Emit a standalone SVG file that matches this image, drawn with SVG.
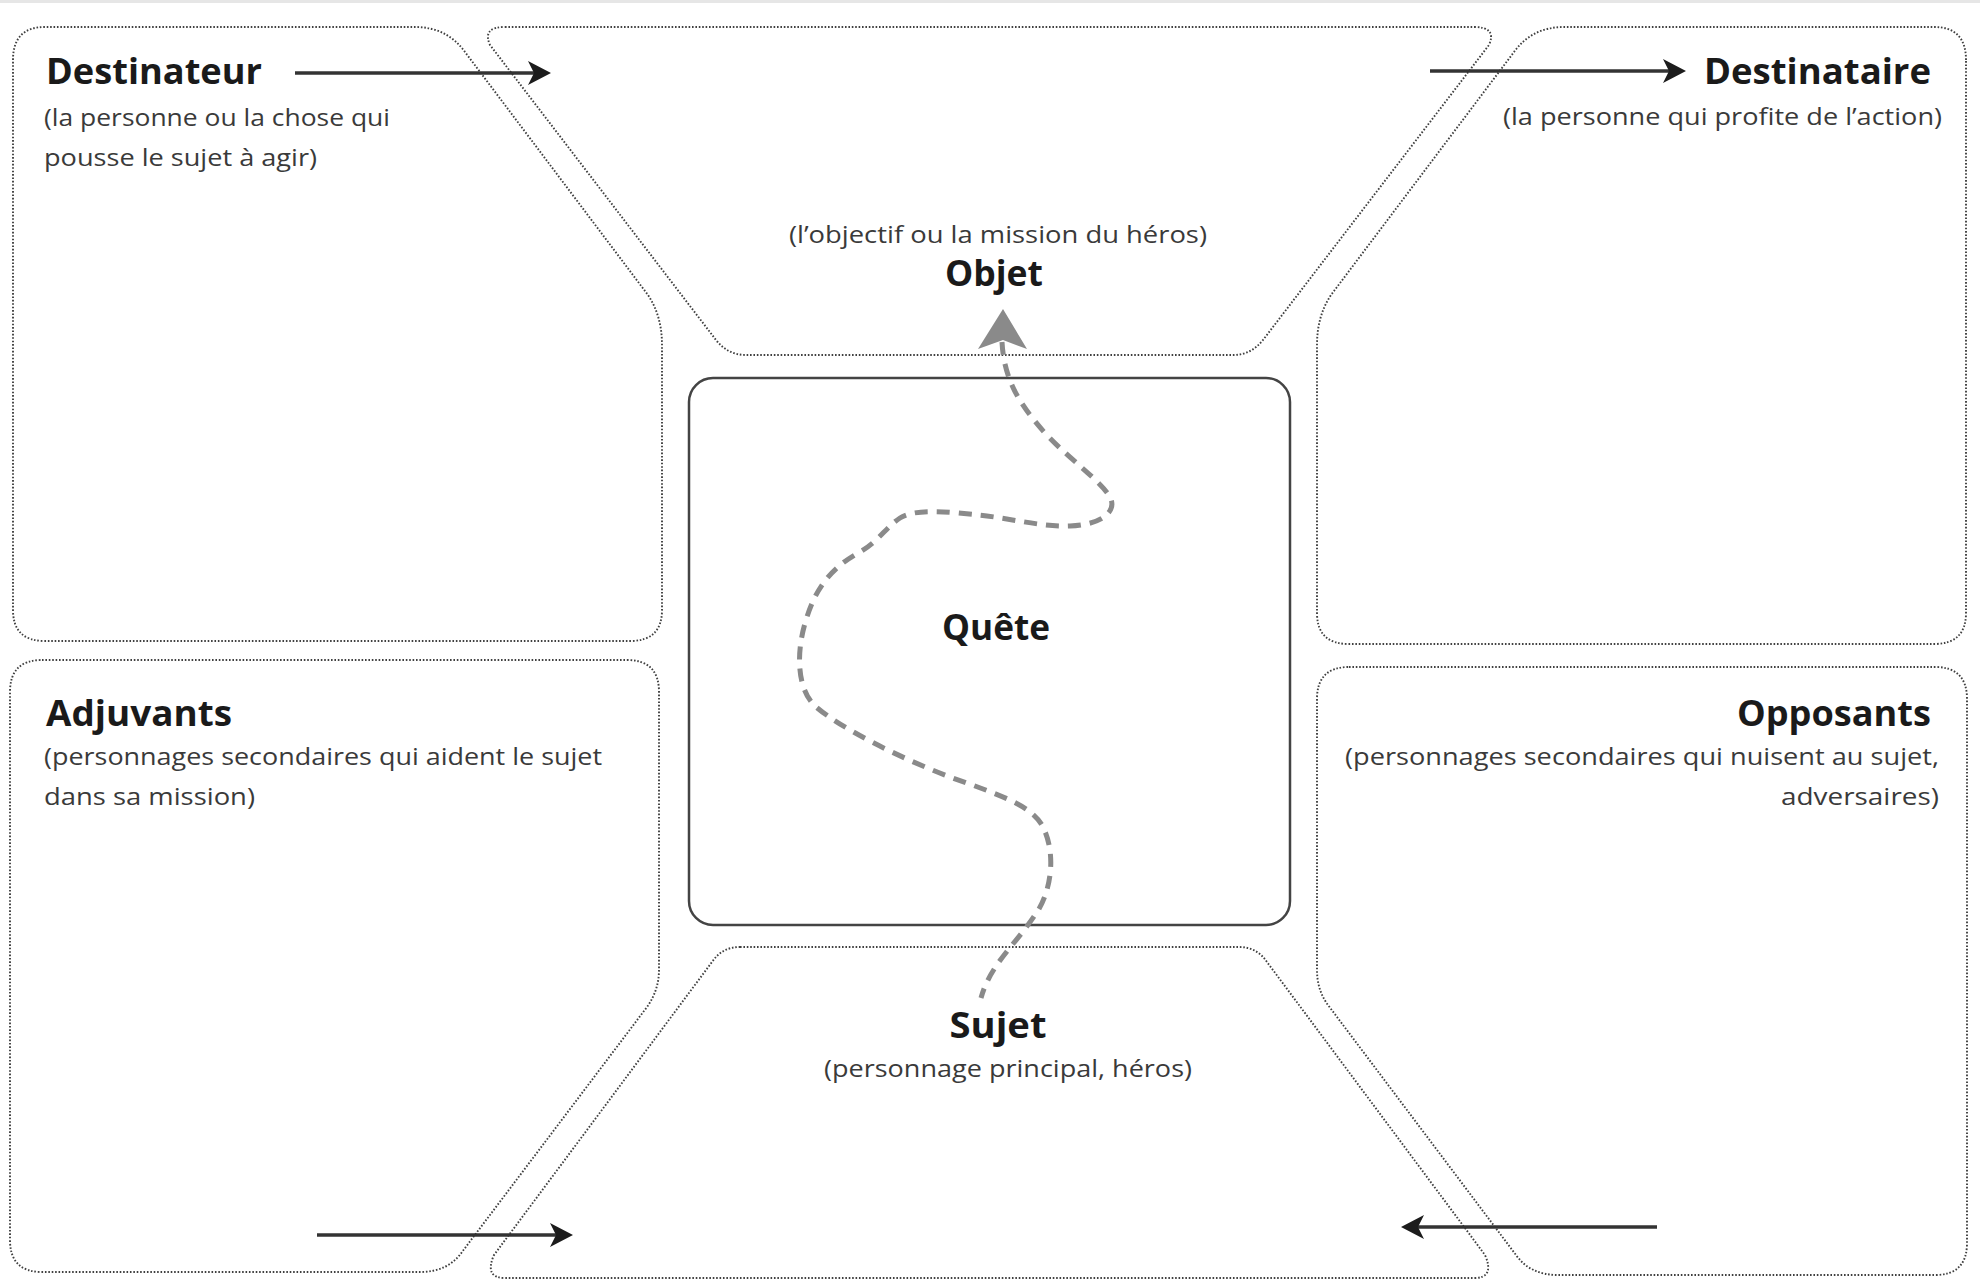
<svg xmlns="http://www.w3.org/2000/svg" width="1980" height="1280" viewBox="0 0 1980 1280">
  <style>
    .zone { fill: none; stroke: #404040; stroke-width: 1.9; stroke-dasharray: 1.6 1.8; }
    .title { font-family: "Open Sans", "Noto Sans", sans-serif; font-weight: 700; font-size: 35px; fill: #1a1a1a; }
    .sub { font-family: "Open Sans", "Noto Sans", sans-serif; font-weight: 400; font-size: 23px; fill: #3a3a3a; }
    .link { fill: none; stroke: #333; stroke-width: 3.5; }
    .quest { fill: none; stroke: #8a8a8a; stroke-width: 5; stroke-dasharray: 13 9; }
  </style>
  <defs>
    <marker id="ah" markerWidth="26" markerHeight="26" refX="14" refY="12" orient="auto" markerUnits="userSpaceOnUse">
      <path d="M0,0 L23,12 L0,24 L6,12 Z" fill="#1c1c1c"/>
    </marker>
  </defs>
  <rect x="0" y="0" width="1980" height="3" fill="#e6e6e6"/>

  <g id="destinateur">
    <path class="zone" d="M 13,60 Q 13,27 45,27 L 415,27 Q 447,27 465,52 L 648,295 Q 662,316 662,345 L 662,610 Q 662,641 630,641 L 45,641 Q 13,641 13,610 Z"/>
    <text class="title" x="46" y="84" textLength="216" lengthAdjust="spacingAndGlyphs">Destinateur</text>
    <text class="sub" x="44" y="126" textLength="346" lengthAdjust="spacingAndGlyphs">(la personne ou la chose qui</text>
    <text class="sub" x="44" y="166" textLength="273" lengthAdjust="spacingAndGlyphs">pousse le sujet à agir)</text>
  </g>

  <g id="objet">
    <path class="zone" d="M 505,27 L 1474,27 Q 1497,27 1489,45 L 1263,340 Q 1251,355 1233,355 L 746,355 Q 728,355 716,340 L 490,45 Q 482,27 505,27 Z"/>
    <text class="sub" x="998" y="243" text-anchor="middle" textLength="418" lengthAdjust="spacingAndGlyphs">(l’objectif ou la mission du héros)</text>
    <text class="title" x="994" y="286" text-anchor="middle" textLength="98" lengthAdjust="spacingAndGlyphs">Objet</text>
  </g>

  <g id="destinataire">
    <path class="zone" d="M 1966,60 Q 1966,27 1934,27 L 1564,27 Q 1532,27 1514,52 L 1331,295 Q 1317,316 1317,345 L 1317,613 Q 1317,644 1349,644 L 1934,644 Q 1966,644 1966,613 Z"/>
    <text class="title" x="1931" y="84" text-anchor="end" textLength="227" lengthAdjust="spacingAndGlyphs">Destinataire</text>
    <text class="sub" x="1942" y="125" text-anchor="end" textLength="439" lengthAdjust="spacingAndGlyphs">(la personne qui profite de l’action)</text>
  </g>

  <g id="quete">
    <rect x="689" y="378" width="601" height="547" rx="24" ry="24" fill="none" stroke="#444" stroke-width="2.5"/>
    <text class="title" x="996" y="640" text-anchor="middle" textLength="108" lengthAdjust="spacingAndGlyphs">Quête</text>
  </g>

  <g id="adjuvants">
    <path class="zone" d="M 42,660 L 627,660 Q 659,660 659,692 L 659,970 Q 659,990 647,1007 L 462,1252 Q 448,1272 420,1272 L 42,1272 Q 10,1272 10,1240 L 10,692 Q 10,660 42,660 Z"/>
    <text class="title" x="46" y="726" textLength="186" lengthAdjust="spacingAndGlyphs">Adjuvants</text>
    <text class="sub" x="44" y="765" textLength="558" lengthAdjust="spacingAndGlyphs">(personnages secondaires qui aident le sujet</text>
    <text class="sub" x="44" y="805" textLength="211" lengthAdjust="spacingAndGlyphs">dans sa mission)</text>
  </g>

  <g id="sujet">
    <path class="zone" d="M 740,947 L 1239,947 Q 1257,947 1267,962 L 1485,1255 Q 1495,1278 1474,1278 L 505,1278 Q 484,1278 494,1255 L 712,962 Q 722,947 740,947 Z"/>
    <text class="title" x="998" y="1038" text-anchor="middle" textLength="97" lengthAdjust="spacingAndGlyphs">Sujet</text>
    <text class="sub" x="1008" y="1077" text-anchor="middle" textLength="368" lengthAdjust="spacingAndGlyphs">(personnage principal, héros)</text>
  </g>

  <g id="opposants">
    <path class="zone" d="M 1349,667 L 1935,667 Q 1967,667 1967,699 L 1967,1243 Q 1967,1275 1935,1275 L 1558,1275 Q 1530,1275 1516,1255 L 1328,1005 Q 1317,990 1317,970 L 1317,699 Q 1317,667 1349,667 Z"/>
    <text class="title" x="1931" y="726" text-anchor="end" textLength="194" lengthAdjust="spacingAndGlyphs">Opposants</text>
    <text class="sub" x="1939" y="765" text-anchor="end" textLength="594" lengthAdjust="spacingAndGlyphs">(personnages secondaires qui nuisent au sujet,</text>
    <text class="sub" x="1939" y="805" text-anchor="end" textLength="158" lengthAdjust="spacingAndGlyphs">adversaires)</text>
  </g>

  <g id="connectors">
    <line class="link" x1="295" y1="73" x2="542" y2="73" marker-end="url(#ah)"/>
    <line class="link" x1="1430" y1="71" x2="1677" y2="71" marker-end="url(#ah)"/>
    <line class="link" x1="317" y1="1235" x2="564" y2="1235" marker-end="url(#ah)"/>
    <line class="link" x1="1657" y1="1227" x2="1410" y2="1227" marker-end="url(#ah)"/>
    <path class="quest" d="M 1002,342 C 1004,380 1020,405 1045,433 C 1070,460 1100,480 1110,497 C 1118,512 1100,525 1070,526 C 1040,527 1010,518 978,515 C 950,512 915,508 900,518 C 885,528 880,540 860,552 C 830,568 815,590 806,620 C 795,655 798,690 815,706 C 840,728 900,758 950,777 C 1000,795 1030,805 1042,825 C 1058,855 1050,895 1035,915 C 1015,945 990,965 981,998"/>
    <path d="M 1003,309 L 1027,349 L 1003,340 L 978,349 Z" fill="#8a8a8a"/>
  </g>
</svg>
